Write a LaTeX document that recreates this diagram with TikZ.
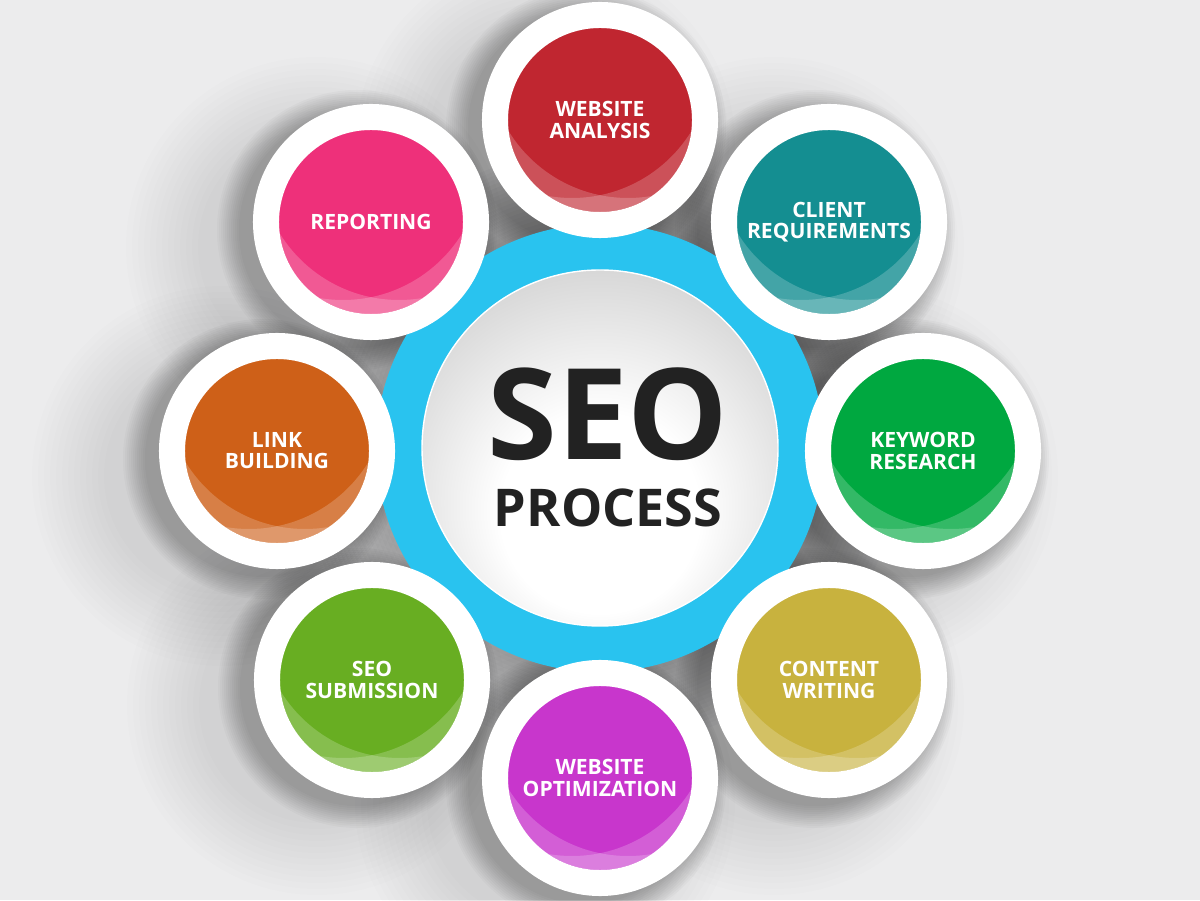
\documentclass[tikz,border=0pt]{standalone}
\usepackage{fontspec}
\setmainfont{Open Sans}
\definecolor{bgGray}{RGB}{236,236,237}
\definecolor{seoBlue}{RGB}{41,195,239}
\definecolor{seoDark}{RGB}{34,34,34}
\definecolor{waRed}{RGB}{192,38,48}
\definecolor{crTeal}{RGB}{20,142,145}
\definecolor{krGreen}{RGB}{0,168,64}
\definecolor{cwOlive}{RGB}{200,178,62}
\definecolor{woMagenta}{RGB}{200,54,204}
\definecolor{ssLime}{RGB}{104,174,34}
\definecolor{lbOrange}{RGB}{206,96,24}
\definecolor{rpPink}{RGB}{238,48,122}
\pgfdeclarelayer{background}
\pgfsetlayers{background,main}
\pgfdeclareradialshading{discshade}{\pgfpoint{0bp}{-12bp}}{color(0bp)=(white); color(14bp)=(white); color(38bp)=(black!22); color(60bp)=(black!22)}

\begin{document}
\begin{tikzpicture}[x=0.025cm, y=0.025cm]

\tikzstyle{every node} = [inner sep=0pt, outer sep=0pt]
\tikzstyle{stepdisc} = [circle, draw=white, line width=0.65cm, minimum size=5.25cm,
  text=white, align=center, font=\bfseries\fontsize{15}{15}\selectfont]
\tikzstyle{hub} = [circle, draw=seoBlue, line width=1.15cm, minimum size=10.05cm]

\useasboundingbox (0,0) rectangle (1200,900);

\node[hub] (seo) at (600,452) {};
\fill[shading=discshade] (seo) circle[radius=178];
\draw[white, line width=1pt] (seo) circle[radius=178];

\node[anchor=base, text=seoDark, font=\bfseries\fontsize{90}{90}\selectfont] (title) at (608,440) {SEO};
\node[anchor=base, text=seoDark, font=\bfseries\fontsize{37}{37}\selectfont] (proc) at (608,373) {PROCESS};

\node[stepdisc, fill=waRed] (wa) at (600,780) {WEBSITE\\ANALYSIS};
\node[stepdisc, fill=crTeal] (cr) at (829,678) {CLIENT\\REQUIREMENTS};
\node[stepdisc, fill=krGreen] (kr) at (923,449) {KEYWORD\\RESEARCH};
\node[stepdisc, fill=cwOlive] (cw) at (829,220) {CONTENT\\WRITING};
\node[stepdisc, fill=woMagenta] (wo) at (600,122) {WEBSITE\\OPTIMIZATION};
\node[stepdisc, fill=ssLime] (ss) at (372,220) {SEO\\SUBMISSION};
\node[stepdisc, fill=lbOrange] (lb) at (277,449) {LINK\\BUILDING};
\node[stepdisc, fill=rpPink] (rp) at (371,678) {REPORTING};

% light crescents in the lower half of each disc
\foreach \n in {wa,cr,kr,cw,wo,ss,lb,rp}{
  \begin{scope}[shift={(\n)}]
    \clip (0,0) circle[radius=92];
    \fill[white, fill opacity=.2, even odd rule] (0,0) circle[radius=92] (28,62) circle[radius=140];
    \fill[white, fill opacity=.2, even odd rule] (0,0) circle[radius=92] (-28,62) circle[radius=140];
  \end{scope}
}

\begin{pgfonlayer}{background}
\fill[bgGray] (0,0) rectangle (1200,900);
% soft shadow round the hub
\foreach \r in {228,232,...,300}
  \fill[black, fill opacity=.016] (seo) circle[radius=\r];
% soft shadows of the discs
\foreach \n in {wa,cr,kr,cw,wo,ss,lb,rp}{
  \begin{scope}[shift={(\n)}]
    \foreach \r in {118,124,...,190}
      \fill[black, fill opacity=.007] (-55,-25) circle[radius=\r];
    \foreach \r in {118,120,...,140}
      \fill[black, fill opacity=.022] (-14,-8) circle[radius=\r];
  \end{scope}
}
\end{pgfonlayer}
\end{tikzpicture}
\end{document}
